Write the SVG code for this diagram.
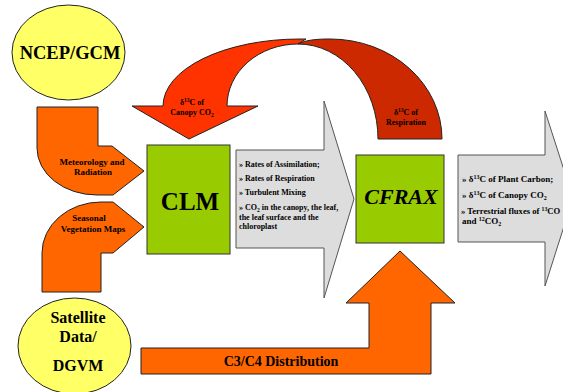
<svg xmlns="http://www.w3.org/2000/svg" width="563" height="392" viewBox="0 0 563 392">
<style>
text{font-family:"Liberation Serif","Times New Roman",serif;font-weight:bold;fill:#000}
.yel{fill:#FFFF66;stroke:#222;stroke-width:1}
.org{fill:#FF6600;stroke:#222;stroke-width:1}
.grn{fill:#99CC00;stroke:#333;stroke-width:1}
.gry{fill:#DDDDDD;stroke:#555;stroke-width:1}
.s8{font-size:8px}
.s9{font-size:9px}
.mid{text-anchor:middle}
</style>
<rect width="563" height="392" fill="#fff"/>
<g id="connectors">
  <g id="canopy-arrow">
    <path d="M163,106 A137,67 0 0 1 300,39 L306,39 L298,44 A71,62 0 0 0 227,106 L258,106 L189,139 L132,106 Z" fill="#FF3300" stroke="#222" stroke-width="1"/>
    <text class="s8 mid" x="192" y="105">δ<tspan dy="-3" font-size="5.5">13</tspan><tspan dy="3">C of</tspan></text>
    <text class="s8 mid" x="192" y="115">Canopy CO<tspan dy="2" font-size="5.5">2</tspan></text>
  </g>
  <g id="respiration-arrow">
    <path d="M298,44 C306,40 316,39 330,39 A112,100 0 0 1 442,139 L378,139 A80,95 0 0 0 298,44 Z" fill="#CC2900" stroke="#222" stroke-width="1"/>
    <text class="s8 mid" x="406" y="115">δ<tspan dy="-3" font-size="5.5">13</tspan><tspan dy="3">C of</tspan></text>
    <text class="s8 mid" x="406" y="125">Respiration</text>
  </g>
  <g id="meteo-arrow">
    <path class="org" d="M37,107 L98,107 L98,146 L112,146 L144,171 L113,195 L97,195 A60,47 0 0 1 37,148 Z"/>
    <text class="s9 mid" x="92" y="165">Meteorology and</text>
    <text class="s9 mid" x="93" y="175">Radiation</text>
  </g>
  <g id="veg-arrow">
    <path class="org" d="M42,292 L42,253 A59,51 0 0 1 101,202 L113,202 L144,227 L113,253 L101,253 L101,292 Z"/>
    <text class="s9 mid" x="89" y="221">Seasonal</text>
    <text class="s9 mid" x="93" y="232">Vegetation Maps</text>
  </g>
  <g id="clm-output-arrow">
    <path class="gry" d="M236,150 L324,150 L324,101 L354,199 L324,298 L324,248 L236,248 Z"/>
    <text class="s8" x="239" y="167">» Rates of Assimilation;</text>
    <text class="s8" x="239" y="181">» Rates of Respiration</text>
    <text class="s8" x="239" y="195">» Turbulent Mixing</text>
    <text class="s8" x="239" y="210">» CO<tspan dy="2" font-size="5.5">2</tspan><tspan dy="-2"> in the canopy, the leaf,</tspan></text>
    <text class="s8" x="239" y="220">the leaf surface  and the</text>
    <text class="s8" x="239" y="229">chloroplast</text>
  </g>
  <g id="cfrax-output-arrow">
    <path class="gry" d="M458,155 L545,155 L545,111 L573,198 L545,286 L545,242 L458,242 Z"/>
    <text class="s9" x="462" y="182">» δ<tspan dy="-3" font-size="6">13</tspan><tspan dy="3">C of Plant Carbon;</tspan></text>
    <text class="s9" x="462" y="198">» δ<tspan dy="-3" font-size="6">13</tspan><tspan dy="3">C of Canopy CO</tspan><tspan dy="2" font-size="6">2</tspan></text>
    <text x="461" y="214" font-size="8.6">» Terrestrial fluxes of <tspan dy="-3" font-size="5.8">13</tspan><tspan dy="3">CO</tspan></text>
    <text class="s9" x="462" y="224">and <tspan dy="-3" font-size="6">12</tspan><tspan dy="3">CO</tspan><tspan dy="2" font-size="6">2</tspan></text>
  </g>
  <g id="c3c4-arrow">
    <path class="org" d="M141,348 L369,348 L369,303 L346,303 L400,251 L455,303 L431,303 L431,374 L141,374 Z"/>
    <text class="mid" x="281" y="366" font-size="14">C3/C4  Distribution</text>
  </g>
</g>
<g id="ncep">
  <ellipse class="yel" cx="68.5" cy="52.5" rx="56.5" ry="47.5"/>
  <text class="mid" x="70" y="59" font-size="18.5">NCEP/GCM</text>
</g>
<g id="satellite">
  <ellipse class="yel" cx="74.5" cy="346" rx="56.5" ry="48"/>
  <text class="mid" x="78" y="323" font-size="16">Satellite</text>
  <text class="mid" x="78" y="342" font-size="16">Data/</text>
  <text class="mid" x="78" y="371" font-size="16">DGVM</text>
</g>
<g id="clm">
  <rect class="grn" x="147" y="145" width="83" height="109"/>
  <text class="mid" x="190" y="210" font-size="25">CLM</text>
</g>
<g id="cfrax">
  <rect class="grn" x="356" y="155" width="88" height="88"/>
  <text class="mid" x="401" y="204" font-size="22" font-style="italic">CFRAX</text>
</g>
</svg>
